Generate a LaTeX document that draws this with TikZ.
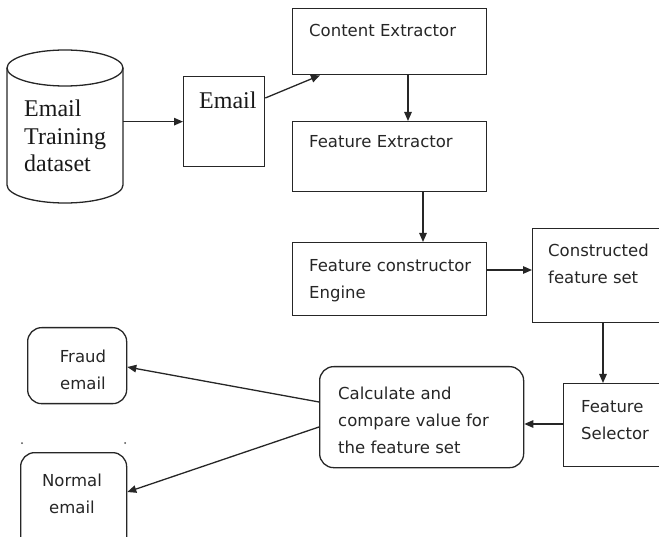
\documentclass[tikz,border=0pt]{standalone}
\usepackage{fontspec}
\setmainfont{Liberation Serif}
\newfontfamily\boxfont{DejaVu Sans}
\usetikzlibrary{arrows.meta,calc}

\tikzset{
  ink/.style={draw=black!85, line width=1.3pt},
  stage/.style={ink, rectangle, inner sep=0pt, anchor=north west},
  result/.style={ink, rectangle, rounded corners=14pt, inner sep=0pt, anchor=north west},
  label/.style={inner sep=0pt, text=black!85, font=\boxfont\fontsize{16.5}{27}\selectfont, align=left},
  serif/.style={inner sep=0pt, text=black!90, font=\fontsize{24}{27.5}\selectfont, align=left},
  flow/.style={ink, -{Triangle[length=9pt,width=7.5pt]}},
}

\begin{document}
\begin{tikzpicture}[x=1pt,y=-1pt]
  \useasboundingbox (0,0) rectangle (659,537);

  % training data store (cylinder)
  \draw[ink] (7,68) -- (7,185) arc[start angle=180, end angle=0, x radius=58, y radius=18] -- (123,68);
  \draw[ink] (65,68) ellipse[x radius=58, y radius=18];
  \node[minimum width=116pt, minimum height=153pt, inner sep=0pt] (db) at (65,126.5) {};
  \node[serif, anchor=west] (dbtext) at (24,136) {Email\\Training\\dataset};

  % processing stages
  \node[stage, minimum width=81pt, minimum height=90pt] (em) at (183,76) {};
  \node[serif, anchor=west] (emtext) at (199,100) {Email};

  \node[stage, minimum width=194pt, minimum height=66pt] (ce) at (292,8) {};
  \node[label, anchor=west] (cetext) at (309,30) {Content Extractor};

  \node[stage, minimum width=194pt, minimum height=70pt] (fe) at (292,121) {};
  \node[label, anchor=west] (fetext) at (309,142) {Feature Extractor};

  \node[stage, minimum width=194pt, minimum height=73pt] (fc) at (292,242) {};
  \node[label, anchor=west] (fctext) at (309,281) {Feature constructor\\Engine};

  \node[stage, minimum width=140pt, minimum height=94pt] (cs) at (532,228) {};
  \node[label, anchor=west] (cstext) at (548,264) {Constructed\\feature set};

  \node[stage, minimum width=110pt, minimum height=83pt] (fs) at (563,383) {};
  \node[label, anchor=west] (fstext) at (581,420) {Feature\\Selector};

  \node[result, minimum width=204pt, minimum height=101pt] (cv) at (319,366) {};
  \node[label, anchor=west] (cvtext) at (338,420) {Calculate and\\compare value for\\the feature set};

  % outcomes
  \node[result, minimum width=99pt, minimum height=76pt] (fr) at (27,327) {};
  \node[label, align=center] (frtext) at (83,370) {Fraud\\email};

  \node[result, minimum width=106pt, minimum height=100pt] (nm) at (20,452) {};
  \node[label, align=center] (nmtext) at (72,494) {Normal\\email};

  % stray marks
  \fill[black!70] (22,443) circle[radius=1pt] (125,443) circle[radius=1pt];

  % connectors
  \draw[flow] (db.east |- em.west) -- (em.west);
  \draw[flow] ($(em.north east)+(0,22)$) -- ($(ce.south west)+(28,0)$);
  \draw[flow] ($(ce.south west)+(116,0)$) -- ($(fe.north west)+(116,0)$);
  \draw[flow] ($(fe.south west)+(131,0)$) -- ($(fc.north west)+(131,0)$);
  \draw[flow] ($(fc.north east)+(0,28)$) -- ($(cs.north west)+(0,42)$);
  \draw[flow] ($(cs.south west)+(71,0)$) -- ($(fs.north west)+(40,0)$);
  \draw[flow] ($(fs.north west)+(0,41)$) -- ($(cv.north east)+(0,58)$);
  \draw[flow] ($(cv.north west)+(0,36)$) -- ($(fr.north east)+(0,40)$);
  \draw[flow] ($(cv.north west)+(0,61)$) -- ($(nm.north east)+(0,40)$);
\end{tikzpicture}
\end{document}
